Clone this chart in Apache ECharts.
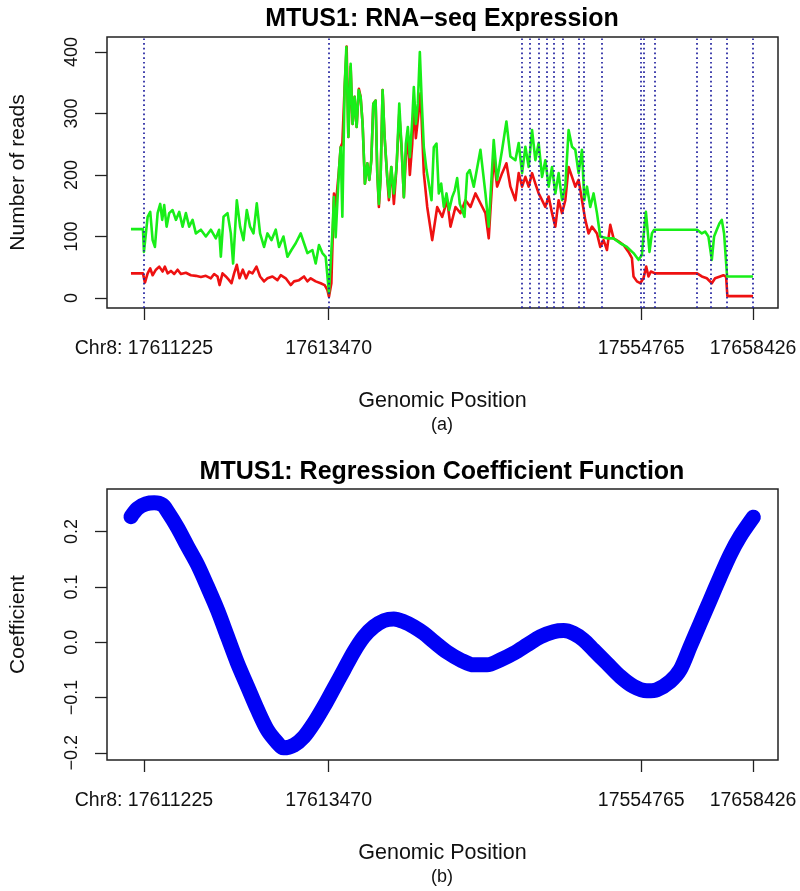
<!DOCTYPE html>
<html><head><meta charset="utf-8">
<script src="https://cdn.jsdelivr.net/npm/echarts@6/dist/echarts.min.js"></script>
<style>html,body{margin:0;padding:0;background:#fff}#c{width:800px;height:891px}</style>
</head><body><div id="c"></div>
<script>
// x = relative genomic position index along the concatenated exons
const tickPositions = [13, 198, 511, 623];
const tickLabels = ['Chr8: 17611225', '17613470', '17554765', '17658426'];
const exonBoundaries = [13, 198, 391, 399, 408, 416, 423, 432, 448, 453, 471, 511, 514, 525, 567, 581, 597, 623];
const readTicks = [0, 100, 200, 300, 400];
const coefTicks = [-0.2, -0.1, 0, 0.1, 0.2];

const greenReads = [
 [0,112],[12,112],[13,75],[16.7,132],[19.3,140],[21.7,94],[24,83],[26.7,138],[29.3,153],[31.3,127],[33.3,151],[35.7,116],[38.3,138],[41.7,143],[45,127],[48.3,140],[51.7,116],[55,138],[58.3,116],[61.7,127],[65,105],[70,111],[75,100],[80,111],[85,97],[88.3,111],[90,67],[92.7,132],[96.7,138],[100,105],[102.3,56],[106,159],[109.3,116],[112.7,94],[116,143],[119.3,116],[122.7,105],[126,154],[129.3,105],[133.3,83],[136.7,105],[140.7,94],[145,111],[148.3,83],[152.7,100],[156.7,67],[160.7,78],[165,89],[170,105],[173.3,89],[176.7,73],[181.7,78],[185,56],[188.3,86],[191.7,73],[195,67],[198.3,8],
 [201.7,105],[203.3,164],[205,99],[208.3,208],[210,245],[211.7,132],[214,343],[215.7,408],[217.7,262],[220,381],[222,283],[224,327],[226,278],[228,338],[230,327],[232,283],[234.3,186],[236.7,219],[238.7,192],[240.7,224],[242.7,316],[245,321],[246.7,202],[248.3,153],[250,195],[252,338],[254,262],[256.7,195],[258.7,164],[260.7,213],[263.3,170],[266,213],[268.7,316],[271,245],[273.3,164],[275.3,251],[277.3,278],[279.3,229],[281.7,289],[283.3,343],[285.3,283],[287.3,316],[289.3,400],[291.3,316],[293.3,245],[296,208],[298.3,186],[301,159],[303.3,245],[306,251],[308.3,170],[310.7,186],[313.3,148],[316,170],[318.7,143],[321.7,164],[324.3,175],[326.7,195],[329.3,153],[331.7,143],[334,132],[336.7,202],[339.3,208],
 [343.3,181],[350,241],[355,170],[358.3,116],[363.3,257],[366.7,192],[371.7,241],[376,287],[380,230],[385,224],[388.3,252],[391.7,203],[395,246],[398.3,213],[401.7,273],[405,224],[408.3,252],[411.7,197],[415,224],[418.3,181],[421.7,213],[425,170],[428.3,203],[431.7,159],[435,181],[438.3,273],[441.7,246],[445,241],[448.3,203],[451.7,241],[454,159],[456.7,181],[460,148],[463.3,170],[466.7,138],[470,100],
 [476.7,97],[483.3,97],[490,89],[496.7,83],[503.3,73],[508.3,62],[511.7,70],[513.3,100],[515.7,140],[517.7,105],[519.3,75],[521.7,105],[524,111],[525,111],[567,111],[568.3,111],[571.7,105],[575,108],[578.3,100],[581.7,62],[584,100],[586.7,111],[589.3,121],[591.7,127],[594,105],[596,102],[597,35],[623,35]
];

const redReads = [
 [0,40],[12,40],[14,25],[16.7,40],[19.3,48],[21.7,37],[25,46],[28.3,51],[31.7,43],[34,51],[36.7,40],[40,44],[43.3,39],[46.7,46],[50,39],[55,41],[60,37],[65,36],[70,34],[75,36],[80,32],[83.3,39],[86.7,35],[88.7,21],[91.7,40],[95,35],[98.3,29],[100.7,24],[103.3,40],[106,54],[108.7,32],[112,46],[115.3,32],[118.3,43],[121.7,40],[125.7,51],[129.3,35],[133.3,27],[136.7,32],[141.7,35],[146.7,29],[150,37],[155,32],[160,21],[163.3,27],[168.3,29],[173.3,35],[176.7,27],[180,32],[185,27],[190,24],[194,21],[196.7,13],[198.3,2],
 [200.7,24],[203.3,170],[205,148],[208.3,208],[210,245],[211.7,252],[214,343],[216,409],[217.7,262],[220,376],[222,283],[224,327],[226,278],[228.3,340],[230,327],[232,283],[234.3,186],[236.7,219],[238.7,192],[240.7,224],[242.7,316],[245,321],[246.7,202],[248.3,148],[250,195],[252,338],[254,262],[256.7,195],[258.3,159],[260.7,213],[263.3,153],[266,213],[268.7,300],[271,245],[273.3,164],[275.3,230],[277.3,265],[279.3,200],[281.7,250],[283.3,320],[285.3,260],[287.3,290],[290,333],[293.3,203],[296.7,148],[301.7,94],[306.7,148],[311.7,132],[316.7,159],[320,116],[325,148],[330,138],[335,159],[340,148],[345,170],[350,154],[355,138],[358.3,97],
 [363.3,230],[366.7,181],[371.7,203],[376,219],[380,181],[385,159],[388.3,203],[391.7,181],[395,197],[398.3,181],[401.7,203],[405,186],[408.3,170],[411.7,159],[415,148],[418.3,165],[421.7,138],[425,116],[428.3,159],[431.7,138],[435,159],[438.3,213],[441.7,197],[445,181],[448.3,192],[451.7,159],[455,127],[458.3,105],[461.7,116],[466.7,105],[470,83],[473.3,94],[476.7,78],[480,119],[483.3,97],[488.3,92],[493.3,86],[498.3,75],[501.7,65],[503.3,35],[506.7,27],[510,24],[513.3,32],[516,51],[518.3,35],[520.7,43],[525,40],[567,40],[571.7,35],[576.7,32],[581.7,24],[585,32],[590,35],[593.3,37],[596,35],[597.3,3],[623,3]
];

const coefCurve = [
 [0,0.227],[6.7,0.242],[15,0.250],[23.3,0.252],[31.7,0.248],[36.7,0.236],[46.7,0.207],[56.7,0.173],[66.7,0.140],[76.7,0.100],[86.7,0.058],[96.7,0.010],[106.7,-0.038],[116.7,-0.080],[126.7,-0.122],[136.7,-0.159],[146.7,-0.182],[152.7,-0.191],[163.3,-0.186],[173.3,-0.171],[183.3,-0.146],[193.3,-0.116],[203.3,-0.083],[213.3,-0.050],[223.3,-0.017],[233.3,0.010],[243.3,0.028],[253.3,0.039],[263.3,0.042],[273.3,0.037],[283.3,0.028],[293.3,0.016],[303.3,0.001],[316.7,-0.018],[330,-0.032],[343.3,-0.041],[356.7,-0.041],[370,-0.032],[383.3,-0.020],[396.7,-0.005],[410,0.010],[423.3,0.019],[433.3,0.021],[443.3,0.016],[453.3,0.004],[463.3,-0.014],[476.7,-0.038],[490,-0.062],[503.3,-0.080],[516.7,-0.088],[526.7,-0.086],[540,-0.071],[550,-0.050],[560,-0.008],[570,0.034],[580,0.076],[590,0.118],[600,0.158],[610,0.191],[623.3,0.226]
];

const FONT = "'Liberation Sans', Arial, Helvetica, sans-serif";
const chart = echarts.init(document.getElementById('c'), null, {renderer: 'canvas'});

function xAxisDef(gi) {
  return {
    type: 'value', gridIndex: gi, min: -24, max: 648,
    axisLine: {show: false, onZero: false}, splitLine: {show: false},
    axisTick: {show: true, length: 12, customValues: tickPositions, lineStyle: {color: '#222', width: 1.3}},
    axisLabel: {show: true, customValues: tickPositions, margin: 31, fontSize: 19.5, color: '#111', fontFamily: FONT,
      formatter: v => { const i = tickPositions.indexOf(Math.round(v)); return i >= 0 ? tickLabels[i] : ''; }},
    name: 'Genomic Position', nameLocation: 'middle', nameGap: 82,
    nameTextStyle: {fontSize: 21.5, color: '#111', fontFamily: FONT}
  };
}

const option = {
  animation: false,
  backgroundColor: '#fff',
  title: [
    {text: 'MTUS1: RNA\u2212seq Expression', left: 442, top: 7, textAlign: 'center', padding: 0,
     textStyle: {fontSize: 25, fontWeight: 'bold', color: '#000', fontFamily: FONT}},
    {text: '(a)', left: 442, top: 416, textAlign: 'center', padding: 0,
     textStyle: {fontSize: 18, fontWeight: 'normal', color: '#111', fontFamily: FONT}},
    {text: 'MTUS1: Regression Coefficient Function', left: 442, top: 460, textAlign: 'center', padding: 0,
     textStyle: {fontSize: 25, fontWeight: 'bold', color: '#000', fontFamily: FONT}},
    {text: '(b)', left: 442, top: 868, textAlign: 'center', padding: 0,
     textStyle: {fontSize: 18, fontWeight: 'normal', color: '#111', fontFamily: FONT}}
  ],
  grid: [
    {left: 106, top: 37, width: 672, height: 271, show: true, borderColor: '#222', borderWidth: 1.5, backgroundColor: 'transparent'},
    {left: 106, top: 489, width: 672, height: 271, show: true, borderColor: '#222', borderWidth: 1.5, backgroundColor: 'transparent'}
  ],
  xAxis: [xAxisDef(0), xAxisDef(1)],
  yAxis: [
    {type: 'value', gridIndex: 0, min: -16.3, max: 424.4,
     axisLine: {show: false, onZero: false}, splitLine: {show: false},
     axisTick: {show: true, length: 12, customValues: readTicks, lineStyle: {color: '#222', width: 1.3}},
     axisLabel: {show: true, customValues: readTicks, rotate: 90, margin: 26, fontSize: 18, color: '#111', fontFamily: FONT,
       formatter: v => String(Math.round(v))},
     name: 'Number of reads', nameLocation: 'middle', nameRotate: 90, nameGap: 78,
     nameTextStyle: {fontSize: 21, color: '#111', fontFamily: FONT}},
    {type: 'value', gridIndex: 1, min: -0.213, max: 0.277,
     axisLine: {show: false, onZero: false}, splitLine: {show: false},
     axisTick: {show: true, length: 12, customValues: coefTicks, lineStyle: {color: '#222', width: 1.3}},
     axisLabel: {show: true, customValues: coefTicks, rotate: 90, margin: 26, fontSize: 18, color: '#111', fontFamily: FONT,
       formatter: v => (v < -1e-9 ? '\u2212' : '') + Math.abs(v).toFixed(1)},
     name: 'Coefficient', nameLocation: 'middle', nameRotate: 90, nameGap: 78,
     nameTextStyle: {fontSize: 21, color: '#111', fontFamily: FONT}}
  ],
  series: [
    {name: 'red', type: 'line', xAxisIndex: 0, yAxisIndex: 0, data: redReads, showSymbol: false, symbol: 'none',
     lineStyle: {color: '#ee1111', width: 2.6, join: 'round'}, z: 2},
    {name: 'green', type: 'line', xAxisIndex: 0, yAxisIndex: 0, data: greenReads, showSymbol: false, symbol: 'none',
     lineStyle: {color: '#18ee18', width: 2.6, join: 'round'}, z: 3,
     markLine: {silent: true, symbol: 'none', label: {show: false}, animation: false,
       lineStyle: {color: '#2222a0', width: 1.7, type: [1.7, 3], cap: 'butt'},
       data: exonBoundaries.map(v => ({xAxis: v}))}},
    {name: 'coef', type: 'line', xAxisIndex: 1, yAxisIndex: 1, data: coefCurve, showSymbol: false, symbol: 'none',
     smooth: 0.3, lineStyle: {color: '#0000f5', width: 15, cap: 'round', join: 'round'}}
  ]
};
chart.setOption(option);
</script>
</body></html>
